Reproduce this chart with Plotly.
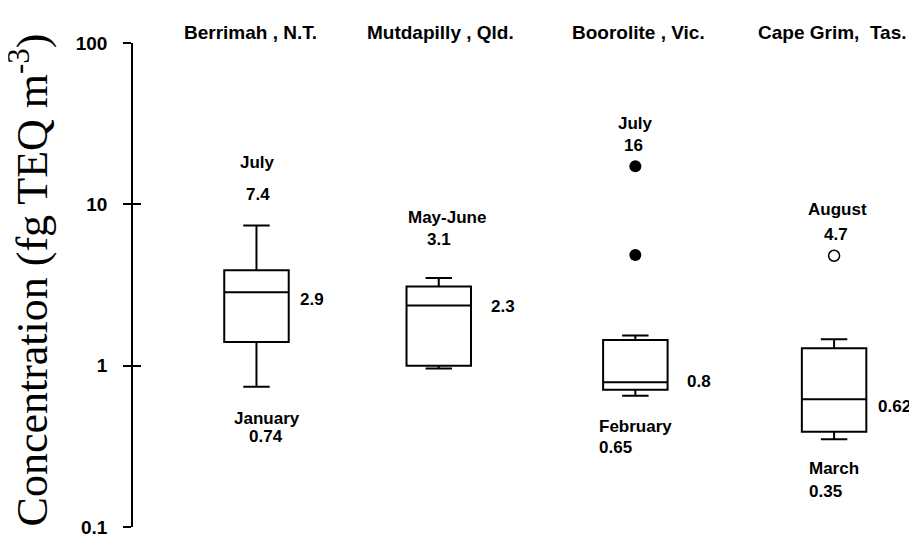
import math
import plotly.graph_objects as go

# ---- data ----
sites = ["Berrimah , N.T.", "Mutdapilly , Qld.", "Boorolite , Vic.", "Cape Grim,\u00a0 Tas."]
site_pos = [0.630, 1.560, 2.563, 3.577]
lower = [0.74, 0.96, 0.65, 0.35]
q1 = [1.40, 1.00, 0.71, 0.39]
median = [2.85, 2.36, 0.79, 0.62]
q3 = [3.90, 3.10, 1.44, 1.28]
upper = [7.4, 3.5, 1.54, 1.46]

filled_out_site = [2.563, 2.563]
filled_out_val = [17.2, 4.86]
open_out_site = [3.577]
open_out_val = [4.8]

ytick_vals = [0.1, 1, 10, 100]
ytick_text = ["0.1", "1", "10", "100"]

# label text, x (site units), y (value), anchor
labels = [
    ("July", 0.633, 18.1, "center"),
    ("7.4", 0.638, 11.5, "center"),
    ("2.9", 0.842, 2.56, "left"),
    ("January", 0.686, 0.468, "center"),
    ("0.74", 0.681, 0.364, "center"),
    ("May-June", 1.602, 8.26, "center"),
    ("3.1", 1.561, 6.03, "center"),
    ("2.3", 1.816, 2.32, "left"),
    ("July", 2.566, 31.6, "center"),
    ("16", 2.551, 23.1, "center"),
    ("0.8", 2.816, 0.793, "left"),
    ("February", 2.367, 0.417, "left"),
    ("0.65", 2.367, 0.309, "left"),
    ("August", 3.594, 9.27, "center"),
    ("4.7", 3.587, 6.47, "center"),
    ("0.62", 3.790, 0.555, "left"),
    ("March", 3.439, 0.229, "left"),
    ("0.35", 3.439, 0.167, "left"),
]

FONT = "Arial, Liberation Sans, sans-serif"

fig = go.Figure()
for i, s in enumerate(sites):
    fig.add_trace(go.Box(
        x=[site_pos[i]], q1=[q1[i]], median=[median[i]], q3=[q3[i]],
        lowerfence=[lower[i]], upperfence=[upper[i]],
        width=0.329, whiskerwidth=0.41,
        line=dict(color="black", width=2), fillcolor="rgba(0,0,0,0)",
        boxpoints=False, showlegend=False, name=s,
    ))

fig.add_trace(go.Scatter(x=filled_out_site, y=filled_out_val, mode="markers",
                         marker=dict(color="black", size=12, line=dict(width=0)),
                         showlegend=False))
fig.add_trace(go.Scatter(x=open_out_site, y=open_out_val, mode="markers",
                         marker=dict(color="white", size=11, line=dict(color="black", width=1.5)),
                         showlegend=False))

for text, x, y, anc in labels:
    fig.add_annotation(x=x, y=math.log10(y), xref="x", yref="y", text=text,
                       showarrow=False, xanchor=anc, yanchor="middle",
                       font=dict(family=FONT, size=17, color="black", weight="bold"))

title_x = [0.602, 1.571, 2.577, 3.571]
for s, x in zip(sites, title_x):
    fig.add_annotation(x=x, y=1.0227, xref="x", yref="paper", text=s,
                       showarrow=False, xanchor="center", yanchor="middle",
                       font=dict(family=FONT, size=19, color="black", weight="bold"))

fig.add_annotation(x=-0.132, y=-0.003, xref="paper", yref="paper",
                   text="Concentration (fg TEQ m<sup>-3</sup>)", textangle=-90,
                   showarrow=False, xanchor="center", yanchor="bottom",
                   font=dict(family="Liberation Serif, Times New Roman, serif", size=44, color="black"))

yax = dict(type="log", range=[-1, 2], tickvals=ytick_vals, ticktext=ytick_text,
           showgrid=False, zeroline=False, showline=True, linecolor="black", linewidth=1.5,
           ticks="outside", ticklen=8, tickwidth=1.5, tickcolor="black", automargin=False,
           ticklabeloverflow="allow",
           tickfont=dict(family=FONT, size=19, color="black", weight="bold"), ticklabelstandoff=12)

fig.update_layout(
    width=909, height=528,
    margin=dict(l=125, r=0, t=35, b=9),
    paper_bgcolor="white", plot_bgcolor="white",
    xaxis=dict(range=[0, 4], visible=False),
    yaxis=yax,
    yaxis2=dict(type="log", range=[-1, 2], tickvals=ytick_vals, showticklabels=False,
                overlaying="y", side="left", anchor="x", showgrid=False, zeroline=False,
                showline=False, ticks="inside", ticklen=8, tickwidth=1.5, tickcolor="black",
                automargin=False),
)
# empty trace to activate yaxis2 (inside tick marks)
fig.add_trace(go.Scatter(x=[None], y=[None], yaxis="y2", showlegend=False))

fig.write_html("out.html")
